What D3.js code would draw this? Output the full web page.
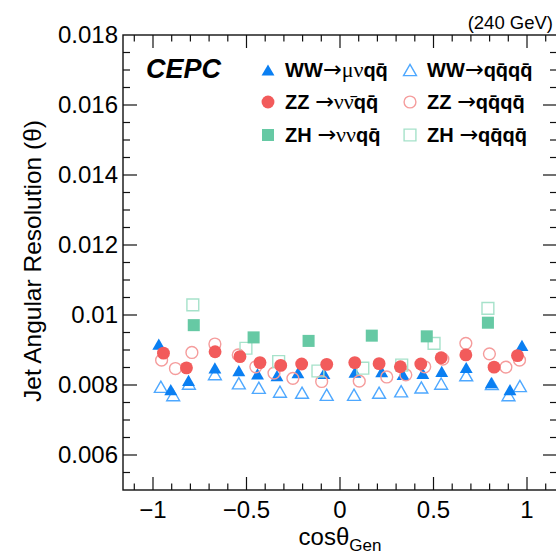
<!DOCTYPE html>
<html>
<head>
<meta charset="utf-8">
<script src="https://cdn.jsdelivr.net/npm/d3@7"></script>
<style>
  html, body { margin: 0; padding: 0; background: #fff; }
  svg { display: block; }
  text { font-family: "Liberation Sans", Arial, Helvetica, sans-serif; }
</style>
</head>
<body>
<svg id="chart" width="556" height="556"></svg>
<script>
// ---- Data ----
const wwMuNuX = [-0.969,-0.905,-0.810,-0.669,-0.541,-0.441,-0.337,-0.225,-0.086,0.080,0.223,0.337,0.443,0.544,0.675,0.809,0.909,0.973];
const wwMuNuY = [0.00917,0.00787,0.00813,0.00849,0.00841,0.00832,0.00827,0.00835,0.00833,0.00837,0.00838,0.00830,0.00833,0.00839,0.00850,0.00807,0.00787,0.00913];

const ww4qX = [-0.958,-0.892,-0.808,-0.669,-0.541,-0.434,-0.321,-0.203,-0.071,0.075,0.209,0.327,0.435,0.541,0.675,0.812,0.901,0.962];
const ww4qY = [0.00795,0.00771,0.00804,0.00831,0.00805,0.00792,0.00781,0.00778,0.00772,0.00772,0.00778,0.00782,0.00793,0.00804,0.00828,0.00803,0.00771,0.00797];

const zzNuNuX = [-0.944,-0.821,-0.668,-0.535,-0.428,-0.317,-0.205,-0.071,0.079,0.209,0.323,0.432,0.541,0.673,0.824,0.949];
const zzNuNuY = [0.00891,0.00849,0.00895,0.00881,0.00864,0.00856,0.00860,0.00859,0.00864,0.00861,0.00852,0.00860,0.00878,0.00886,0.00851,0.00884];

const zz4qX = [-0.954,-0.880,-0.792,-0.669,-0.544,-0.450,-0.353,-0.252,-0.098,0.103,0.250,0.352,0.453,0.550,0.673,0.799,0.887,0.960];
const zz4qY = [0.00871,0.00847,0.00893,0.00917,0.00886,0.00852,0.00834,0.00819,0.00810,0.00811,0.00823,0.00829,0.00852,0.00874,0.00919,0.00889,0.00851,0.00871];

const zhNuNuX = [-0.782,-0.462,-0.168,0.170,0.464,0.791];
const zhNuNuY = [0.00971,0.00936,0.00926,0.00941,0.00939,0.00978];

const zh4qX = [-0.787,-0.503,-0.328,-0.118,0.122,0.330,0.503,0.791];
const zh4qY = [0.01029,0.00905,0.00867,0.00840,0.00848,0.00857,0.00919,0.01019];

const yTickLabels = ["0.006","0.008","0.01","0.012","0.014","0.016","0.018"];
const xTickLabels = ["\u22121","\u22120.5","0","0.5","1"];

// legend labels: segments [text, style] (1 bold latin, 0 arrow, 2 greek)
const legendLabels = [
  [["WW",1],["\u2192",0],["\u03bc\u03bd",2],["q",1],["q\u0304",1]],
  [["ZZ ",1],["\u2192",0],["\u03bd\u03bd\u0304",2],["q",1],["q\u0304",1]],
  [["ZH ",1],["\u2192",0],["\u03bd\u03bd",2],["q",1],["q\u0304",1]],
  [["WW",1],["\u2192",0],["q",1],["q\u0304",1],["q",1],["q\u0304",1]],
  [["ZZ ",1],["\u2192",0],["q",1],["q\u0304",1],["q",1],["q\u0304",1]],
  [["ZH ",1],["\u2192",0],["q",1],["q\u0304",1],["q",1],["q\u0304",1]]
];

// ---- Layout ----
const svg = d3.select("#chart");
const L = 123, R = 557, T = 35, B = 490;
const x = d3.scaleLinear().domain([-1.1604, 1.1604]).range([L, R]);
const y = d3.scaleLinear().domain([0.005, 0.018]).range([B, T]);

const C = {
  triF: "#0a7ff2", triO: "#4ea8ff",
  cirF: "#f25b5b", cirO: "#f59c9c",
  sqF: "#66c9a4", sqO: "#a6e2ca"
};

// custom triangle centred on its bounding box
const triBox = { draw(ctx, size) {
  const s = Math.sqrt(size * 4 / Math.sqrt(3));
  const h = s * Math.sqrt(3) / 2;
  ctx.moveTo(0, -h / 2); ctx.lineTo(s / 2, h / 2); ctx.lineTo(-s / 2, h / 2); ctx.closePath();
}};

const series = [
  { xs: ww4qX, ys: ww4qY, type: triBox, size: 72, color: C.triO, fill: false },
  { xs: wwMuNuX, ys: wwMuNuY, type: triBox, size: 72, color: C.triF, fill: true },
  { xs: zz4qX, ys: zz4qY, type: d3.symbolCircle, size: 110, color: C.cirO, fill: false },
  { xs: zh4qX, ys: zh4qY, type: d3.symbolSquare, size: 140, color: C.sqO, fill: false },
  { xs: zzNuNuX, ys: zzNuNuY, type: d3.symbolCircle, size: 130, color: C.cirF, fill: true },
  { xs: zhNuNuX, ys: zhNuNuY, type: d3.symbolSquare, size: 145, color: C.sqF, fill: true }
];

// ---- Frame & ticks ----
const g = svg.append("g");
g.append("rect").attr("x", L).attr("y", T).attr("width", R - L).attr("height", B - T)
  .attr("fill", "none").attr("stroke", "#111").attr("stroke-width", 1.4);

const xMinor = d3.range(-11, 12).map(d => d / 10);
const xMajor = [-1, -0.5, 0, 0.5, 1];
const yMinor = d3.range(10, 37).map(d => d * 0.0005);
const yMajor = yTickLabels.map(Number);

const tickG = g.append("g").attr("stroke", "#111").attr("stroke-width", 1.2);
xMinor.forEach(v => {
  const isMaj = xMajor.some(m => Math.abs(m - v) < 1e-9);
  const len = isMaj ? 13 : 6.5;
  tickG.append("line").attr("x1", x(v)).attr("x2", x(v)).attr("y1", B).attr("y2", B - len);
  tickG.append("line").attr("x1", x(v)).attr("x2", x(v)).attr("y1", T).attr("y2", T + len);
});
yMinor.forEach(v => {
  if (v < 0.005 + 1e-9 || v > 0.018 - 1e-9) return;
  const isMaj = yMajor.some(m => Math.abs(m - v) < 1e-9);
  const len = isMaj ? 14 : 7;
  tickG.append("line").attr("x1", L).attr("x2", L + len).attr("y1", y(v)).attr("y2", y(v));
  tickG.append("line").attr("x1", R).attr("x2", R - len).attr("y1", y(v)).attr("y2", y(v));
});

// tick labels
yMajor.forEach((v, i) => {
  g.append("text").attr("x", 118).attr("y", y(v)).attr("dy", "0.35em")
    .attr("text-anchor", "end").attr("font-size", 24).attr("fill", "#000").text(yTickLabels[i]);
});
xMajor.forEach((v, i) => {
  g.append("text").attr("x", x(v)).attr("y", 518)
    .attr("text-anchor", "middle").attr("font-size", 24).attr("fill", "#000").text(xTickLabels[i]);
});

// axis titles
const xt = g.append("text").attr("x", 340).attr("y", 545).attr("text-anchor", "middle")
  .attr("font-size", 24).attr("fill", "#000");
xt.append("tspan").text("cos\u03b8");
xt.append("tspan").attr("font-size", 17).attr("dy", 6).text("Gen");

g.append("text").attr("transform", "translate(41,261) rotate(-90)").attr("text-anchor", "middle")
  .attr("font-size", 24.5).attr("fill", "#000").text("Jet Angular Resolution (\u03b8)");

g.append("text").attr("x", 553).attr("y", 29).attr("text-anchor", "end")
  .attr("font-size", 18.5).attr("fill", "#000").text("(240 GeV)");

g.append("text").attr("x", 146).attr("y", 77.5).attr("font-size", 27)
  .attr("font-weight", "bold").attr("font-style", "italic").attr("fill", "#000").text("CEPC");

// ---- Markers ----
const markG = svg.append("g");
series.forEach(s => {
  const sym = d3.symbol().type(s.type).size(s.size)();
  markG.append("g").selectAll("path").data(d3.range(s.xs.length)).join("path")
    .attr("d", sym)
    .attr("transform", i => `translate(${x(s.xs[i])},${y(s.ys[i])})`)
    .attr("fill", s.fill ? s.color : "none")
    .attr("stroke", s.fill ? "none" : s.color)
    .attr("stroke-width", s.fill ? 0 : 1.4);
});

// ---- Legend ----
const legSeries = [series[1], series[4], series[5], series[0], series[2], series[3]];
const legPos = [[268, 70], [268, 102], [268, 135], [410, 70], [410, 102], [410, 135]];
legSeries.forEach((s, i) => {
  const [mx, my] = legPos[i];
  svg.append("path").attr("d", d3.symbol().type(s.type).size(s.size)())
    .attr("transform", `translate(${mx},${my})`)
    .attr("fill", s.fill ? s.color : "none")
    .attr("stroke", s.fill ? "none" : s.color)
    .attr("stroke-width", s.fill ? 0 : 1.4);
  const t = svg.append("text").attr("x", mx + 17).attr("y", my + 7).attr("font-size", 20).attr("fill", "#000");
  legendLabels[i].forEach(([txt, st]) => {
    const sp = t.append("tspan").text(txt);
    if (st === 1) sp.attr("font-weight", "bold");
    else if (st === 0) sp.attr("font-family", "DejaVu Sans").attr("font-weight", "normal").attr("font-size", 22.5);
    else sp.attr("font-family", "Liberation Serif").attr("font-weight", "normal").attr("font-size", 22);
  });
});
</script>
</body>
</html>
